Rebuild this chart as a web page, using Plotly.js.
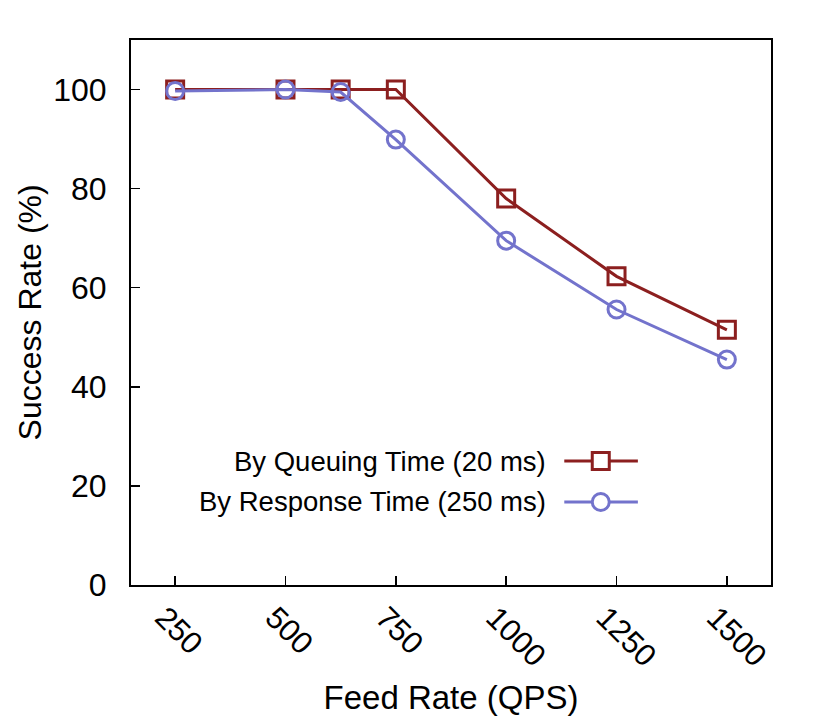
<!DOCTYPE html>
<html>
<head>
<meta charset="utf-8">
<script src="https://cdn.plot.ly/plotly-3.0.1.min.js"></script>
<style>
  body { margin: 0; background: #fff; }
  #plot { width: 830px; height: 721px; }
</style>
</head>
<body>
<div id="plot"></div>
<script>
// feed rate (QPS)
const feedRate = [250, 500, 625, 750, 1000, 1250, 1500];
// success rate (%)
const byQueuing = [100, 100, 100, 100, 78.0, 62.3, 51.5];
const byResponse = [99.7, 100, 99.5, 89.9, 69.5, 55.6, 45.5];

const xTicks = [250, 500, 750, 1000, 1250, 1500];
const yTicks = [0, 20, 40, 60, 80, 100];

const names = ["By Queuing Time (20 ms)", "By Response Time (250 ms)"];
const red = "#8c1f1f";
const blue = "#7373cc";

const font = "Liberation Sans, Arial, sans-serif";

const traces = [
    {
        x: feedRate,
        y: byQueuing,
        mode: "lines+markers",
        name: names[0],
        line: { color: red, width: 3 },
        marker: { symbol: "square-open", size: 17, color: red, line: { width: 3, color: red } }
    },
    {
        x: feedRate,
        y: byResponse,
        mode: "lines+markers",
        name: names[1],
        line: { color: blue, width: 3 },
        marker: { symbol: "circle-open", size: 17, color: blue, line: { width: 3, color: blue } }
    }
];

// legend drawn by hand: text on the left, sample on the right
const legendY = [0.2275, 0.1523];
const annotations = names.map((t, i) => ({
    xref: "paper", yref: "paper",
    x: 0.652, y: legendY[i],
    xanchor: "right", yanchor: "middle",
    text: t, showarrow: false,
    font: { family: font, size: 27.5, color: "#000" }
}));

// y title as annotation so it can sit closer to the edge
annotations.push({
    xref: "paper", yref: "paper",
    x: -0.158, y: 0.5,
    xanchor: "center", yanchor: "middle",
    textangle: -90,
    text: "Success Rate (%)", showarrow: false,
    font: { family: font, size: 32, color: "#000" }
});

const shapes = [];
[red, blue].forEach((c, i) => {
    shapes.push({
        type: "line", xref: "paper", yref: "paper",
        x0: 0.677, x1: 0.792, y0: legendY[i], y1: legendY[i],
        line: { color: c, width: 3 }
    });
    shapes.push({
        type: i === 0 ? "rect" : "circle",
        xref: "paper", yref: "paper",
        xsizemode: "pixel", ysizemode: "pixel",
        xanchor: 0.734, yanchor: legendY[i],
        x0: -8.5, x1: 8.5, y0: -8.5, y1: 8.5,
        fillcolor: "#fff",
        line: { color: c, width: 3 }
    });
});

const layout = {
    width: 830,
    height: 721,
    margin: { l: 131, r: 59, t: 40, b: 136 },
    paper_bgcolor: "#fff",
    plot_bgcolor: "#fff",
    showlegend: false,
    font: { family: font, color: "#000" },
    xaxis: {
        range: [150, 1600],
        tickvals: xTicks,
        ticktext: xTicks.map(String),
        tickangle: 45,
        ticks: "inside",
        ticklen: 9,
        tickwidth: 1.5,
        tickcolor: "#000",
        showline: true,
        mirror: true,
        linecolor: "#000",
        linewidth: 2,
        showgrid: false,
        zeroline: false,
        tickfont: { family: font, size: 31 },
        ticklabelstandoff: 0,
        ticklabelshift: -11,
        title: { text: "Feed Rate (QPS)", font: { family: font, size: 33 }, standoff: 14 }
    },
    yaxis: {
        range: [0, 110],
        tickvals: yTicks,
        ticks: "inside",
        ticklen: 9,
        tickwidth: 1.5,
        tickcolor: "#000",
        showline: true,
        mirror: true,
        linecolor: "#000",
        linewidth: 2,
        showgrid: false,
        zeroline: false,
        tickfont: { family: font, size: 32 },
        ticklabelstandoff: 16
    },
    annotations: annotations,
    shapes: shapes
};

Plotly.newPlot("plot", traces, layout, { displayModeBar: false, staticPlot: true });
</script>
</body>
</html>
